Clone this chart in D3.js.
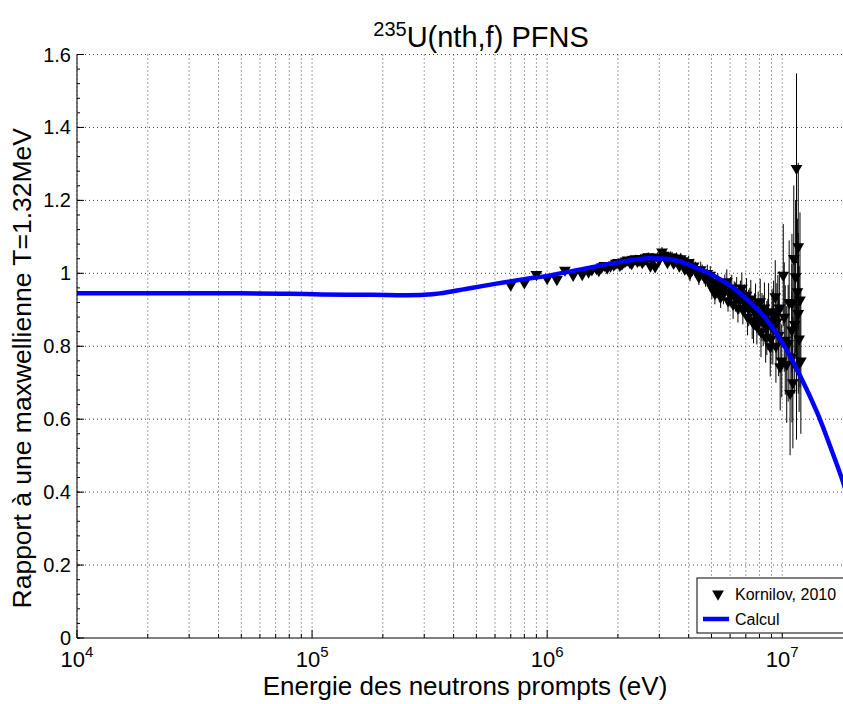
<!DOCTYPE html>
<html>
<head>
<meta charset="utf-8">
<script src="https://cdn.jsdelivr.net/npm/d3@7"></script>
<style>
  body { margin: 0; background: #fff; }
  text { font-family: "Liberation Sans", Arial, Helvetica, sans-serif; fill: #000; }
  .grid line { stroke: #444; stroke-width: 1; stroke-dasharray: 1,3; }
</style>
</head>
<body>
<svg id="chart"></svg>
<script>
// Calcul curve : energy (eV) / ratio to maxwellian
var calcE = [1e4, 5e4, 8e4, 1.1e5, 1.8e5, 2.5e5, 3e5, 3.5e5, 4.5e5, 6e5, 8e5, 1e6, 1.5e6, 2e6, 2.7e6,
             3.5e6, 4.5e6, 5.3e6, 6.2e6, 7.3e6, 8.6e6, 1.01e7, 1.19e7, 1.41e7, 1.6e7, 1.82e7, 1.9e7];
var calcV = [0.945, 0.945, 0.944, 0.942, 0.941, 0.940, 0.941, 0.945, 0.957, 0.971, 0.984, 0.993, 1.015, 1.030, 1.041,
             1.036, 1.010, 0.988, 0.960, 0.920, 0.872, 0.806, 0.720, 0.617, 0.525, 0.425, 0.385];

// Kornilov, 2010 experimental points (energy in MeV), value and error
var kornE = [0.70, 0.80, 0.90, 1.00, 1.10, 1.19, 1.29, 1.41, 1.50, 1.62, 1.71, 1.80, 1.92, 2.00,
             2.08, 2.16, 2.25, 2.33, 2.42, 2.50, 2.58, 2.66, 2.75, 2.88, 2.95, 3.08, 3.20, 3.30,
             3.40, 3.50, 3.60, 3.70, 3.80, 3.90, 4.00, 4.10, 4.20, 4.35, 4.50, 4.65, 4.80, 4.94,
             5.10, 5.25, 5.40, 5.55, 5.70, 5.81, 5.95, 6.10, 6.25, 6.40, 6.55, 6.73, 6.90, 7.05,
             7.20, 7.35, 7.55, 7.70, 7.90, 8.06, 8.20, 8.40, 8.60, 8.75, 8.89, 9.05, 9.19, 9.34,
             9.49, 9.65, 9.80, 10.1, 10.3, 10.6, 10.8, 11.0, 11.0, 11.0, 11.2, 11.4, 11.5, 11.5,
             11.7, 11.7, 11.9];
var kornV = [0.968, 0.974, 0.997, 0.986, 0.983, 1.009, 0.995, 0.997, 1.004, 1.013, 1.018, 1.015, 1.023, 1.030,
             1.026, 1.034, 1.030, 1.038, 1.033, 1.041, 1.036, 1.044, 1.020, 1.018, 1.045, 1.059, 1.047, 1.038,
             1.044, 1.035, 1.030, 1.040, 1.025, 1.020, 1.030, 1.012, 1.020, 1.005, 1.010, 0.995, 1.000, 0.995,
             0.975, 0.960, 0.950, 0.955, 0.965, 0.977, 0.945, 0.960, 0.940, 0.950, 0.930, 0.959, 0.925, 0.940,
             0.905, 0.930, 0.863, 0.915, 0.890, 0.922, 0.880, 0.905, 0.850, 0.895, 0.799, 0.870, 0.886, 0.936,
             0.867, 0.830, 0.744, 0.995, 0.817, 0.808, 0.671, 0.845, 0.918, 0.771, 1.041, 0.991, 1.288, 0.744,
             1.073, 0.890, 0.927];
var kornErr = [0.008, 0.008, 0.008, 0.008, 0.008, 0.008, 0.008, 0.008, 0.008, 0.009, 0.009, 0.009, 0.010, 0.010,
               0.010, 0.010, 0.011, 0.011, 0.011, 0.012, 0.012, 0.012, 0.012, 0.013, 0.013, 0.013, 0.014, 0.014,
               0.015, 0.015, 0.016, 0.016, 0.017, 0.018, 0.018, 0.019, 0.020, 0.021, 0.022, 0.023, 0.024, 0.025,
               0.026, 0.028, 0.030, 0.031, 0.032, 0.034, 0.035, 0.036, 0.038, 0.040, 0.041, 0.043, 0.045, 0.047,
               0.050, 0.052, 0.055, 0.057, 0.060, 0.063, 0.066, 0.070, 0.074, 0.078, 0.082, 0.088, 0.094, 0.100,
               0.106, 0.112, 0.120, 0.140, 0.150, 0.160, 0.170, 0.180, 0.190, 0.180, 0.200, 0.210, 0.260, 0.200,
               0.230, 0.220, 0.240];

// second block of Kornilov points read between the ones above
var kornE2 = [1.55, 1.66, 1.75, 1.86, 1.96, 2.04, 2.12, 2.20, 2.29, 2.37, 2.46, 2.54, 2.62, 2.70,
              2.80, 3.00, 3.14, 3.25, 3.35, 3.45, 3.55, 3.65, 3.75, 3.85, 3.95, 4.05, 4.15, 4.27,
              4.42, 4.57, 4.72, 4.87, 5.02, 5.17, 5.32, 5.47, 5.62, 5.88, 6.02, 6.18, 6.32, 6.48,
              6.64, 6.80, 6.98, 7.12, 7.28, 7.45, 7.62, 7.80, 7.98, 8.12, 8.30, 8.50, 8.68, 8.95,
              9.12, 9.40, 9.58, 9.72, 9.95, 10.2, 10.45, 10.7, 11.1, 11.3, 11.6, 11.8, 12.0];
var kornV2 = [1.010, 1.008, 1.022, 1.020, 1.028, 1.022, 1.031, 1.037, 1.027, 1.040, 1.036, 1.030, 1.040, 1.046,
              1.035, 1.038, 1.050, 1.030, 1.045, 1.028, 1.042, 1.020, 1.035, 1.012, 1.028, 1.000, 1.015, 1.010,
              0.990, 1.002, 0.985, 0.980, 0.960, 0.945, 0.970, 0.935, 0.945, 0.925, 0.950, 0.915, 0.935, 0.905,
              0.940, 0.900, 0.915, 0.880, 0.910, 0.870, 0.895, 0.855, 0.880, 0.840, 0.870, 0.825, 0.860, 0.820,
              0.850, 0.800, 0.895, 0.905, 0.760, 0.880, 0.750, 0.920, 0.700, 0.860, 0.950, 0.820, 0.760];
var kornErr2 = [0.009, 0.009, 0.009, 0.009, 0.009, 0.011, 0.011, 0.011, 0.011, 0.011, 0.011, 0.011, 0.011, 0.011,
                0.011, 0.015, 0.015, 0.015, 0.015, 0.015, 0.015, 0.015, 0.015, 0.015, 0.015, 0.022, 0.022, 0.022,
                0.022, 0.022, 0.022, 0.022, 0.030, 0.030, 0.030, 0.030, 0.030, 0.030, 0.040, 0.040, 0.040, 0.040,
                0.040, 0.040, 0.040, 0.050, 0.050, 0.050, 0.050, 0.050, 0.050, 0.070, 0.070, 0.070, 0.070, 0.070,
                0.100, 0.100, 0.100, 0.100, 0.100, 0.150, 0.160, 0.170, 0.180, 0.190, 0.200, 0.200, 0.200];

var xTicks = [1e4, 1e5, 1e6, 1e7];
var yTicks = [0, 0.2, 0.4, 0.6, 0.8, 1, 1.2, 1.4, 1.6];

// chart size params
var width = 843, height = 704;
var m = {left: 77, right: 853, top: 54.5, bottom: 638};

var x = d3.scaleLog().domain([1e4, 2e7]).range([m.left, m.right]);
var y = d3.scaleLinear().domain([0, 1.6]).range([m.bottom, m.top]);

var svg = d3.select("#chart")
    .attr("width", width)
    .attr("height", height);

// minor log ticks 2..9 for each decade
var minorX = [];
xTicks.forEach(function(d) {
  d3.range(2, 10).forEach(function(k) { if (d * k <= 2e7) minorX.push(d * k); });
});
var minorY = d3.range(0, 1.6001, 0.04);

// Grid (dotted)
var grid = svg.append("g").attr("class", "grid");
grid.selectAll(".gx")
    .data(xTicks.concat(minorX))
  .enter().append("line")
    .attr("x1", function(d) { return x(d); })
    .attr("x2", function(d) { return x(d); })
    .attr("y1", m.top)
    .attr("y2", m.bottom);
grid.selectAll(".gy")
    .data(yTicks.slice(1))
  .enter().append("line")
    .attr("x1", m.left)
    .attr("x2", m.right)
    .attr("y1", function(d) { return y(d); })
    .attr("y2", function(d) { return y(d); });

// Error bars
var pts = kornE.map(function(e, i) { return {e: e * 1e6, v: kornV[i], err: kornErr[i]}; })
  .concat(kornE2.map(function(e, i) { return {e: e * 1e6, v: kornV2[i], err: kornErr2[i]}; }));

svg.append("g")
  .selectAll("line")
    .data(pts)
  .enter().append("line")
    .attr("x1", function(d) { return x(d.e); })
    .attr("x2", function(d) { return x(d.e); })
    .attr("y1", function(d) { return y(d.v - d.err); })
    .attr("y2", function(d) { return y(d.v + d.err); })
    .style("stroke", "#000")
    .style("stroke-width", 1);

// Markers : downward triangles
var tri = d3.symbol().type(d3.symbolTriangle).size(60);
svg.append("g")
  .selectAll("path")
    .data(pts)
  .enter().append("path")
    .attr("d", tri)
    .attr("transform", function(d) { return "translate(" + x(d.e) + "," + y(d.v) + ")rotate(180)"; })
    .style("fill", "#000");

// Calcul line
var line = d3.line()
    .x(function(d, i) { return x(calcE[i]); })
    .y(function(d) { return y(d); })
    .curve(d3.curveCatmullRom.alpha(0.5));

svg.append("path")
    .datum(calcV)
    .attr("d", line)
    .style("fill", "none")
    .style("stroke", "#0000ff")
    .style("stroke-width", 4.5);

// Axes lines
svg.append("line")
    .attr("x1", m.left).attr("x2", m.left).attr("y1", m.top).attr("y2", m.bottom)
    .style("stroke", "#000");
svg.append("line")
    .attr("x1", m.left).attr("x2", m.right).attr("y1", m.bottom).attr("y2", m.bottom)
    .style("stroke", "#000");

// Ticks (inward)
svg.append("g").selectAll("line")
    .data(minorY)
  .enter().append("line")
    .attr("x1", m.left).attr("x2", m.left + 3)
    .attr("y1", function(d) { return y(d); })
    .attr("y2", function(d) { return y(d); })
    .style("stroke", "#000");
svg.append("g").selectAll("line")
    .data(yTicks)
  .enter().append("line")
    .attr("x1", m.left).attr("x2", m.left + 7)
    .attr("y1", function(d) { return y(d); })
    .attr("y2", function(d) { return y(d); })
    .style("stroke", "#000");
svg.append("g").selectAll("line")
    .data(minorX)
  .enter().append("line")
    .attr("x1", function(d) { return x(d); })
    .attr("x2", function(d) { return x(d); })
    .attr("y1", m.bottom).attr("y2", m.bottom - 4)
    .style("stroke", "#000");
svg.append("g").selectAll("line")
    .data(xTicks)
  .enter().append("line")
    .attr("x1", function(d) { return x(d); })
    .attr("x2", function(d) { return x(d); })
    .attr("y1", m.bottom).attr("y2", m.bottom - 8)
    .style("stroke", "#000");

// Tick labels
svg.append("g").selectAll("text")
    .data(yTicks)
  .enter().append("text")
    .attr("x", m.left - 6)
    .attr("y", function(d) { return y(d); })
    .attr("dy", "0.35em")
    .attr("text-anchor", "end")
    .style("font-size", "20px")
    .text(function(d) { return String(d); });

var xl = svg.append("g").selectAll("text")
    .data(xTicks)
  .enter().append("text")
    .attr("x", function(d) { return x(d); })
    .attr("y", 667)
    .attr("text-anchor", "middle")
    .style("font-size", "22px");
xl.append("tspan").text("10");
xl.append("tspan")
    .attr("dy", "-10")
    .style("font-size", "15px")
    .text(function(d) { return Math.round(Math.log10(d)); });

// Axis titles
svg.append("text")
    .attr("x", (m.left + m.right) / 2)
    .attr("y", 695)
    .attr("text-anchor", "middle")
    .style("font-size", "26px")
    .text("Energie des neutrons prompts (eV)");

svg.append("text")
    .attr("transform", "translate(31," + ((m.top + m.bottom) / 2 + 22) + ")rotate(-90)")
    .attr("text-anchor", "middle")
    .style("font-size", "26.5px")
    .text("Rapport à une maxwellienne T=1.32MeV");

var title = svg.append("text")
    .attr("x", (m.left + m.right) / 2 + 16)
    .attr("y", 47)
    .attr("text-anchor", "middle")
    .style("font-size", "29px");
title.append("tspan")
    .attr("dy", "-11")
    .style("font-size", "20px")
    .text("235");
title.append("tspan")
    .attr("dy", "11")
    .text("U(nth,f) PFNS");

// Legend
var lg = svg.append("g").attr("transform", "translate(697,578)");
lg.append("rect")
    .attr("width", 170).attr("height", 55)
    .style("fill", "#fff").style("stroke", "#000");
lg.append("path")
    .attr("d", tri)
    .attr("transform", "translate(21,16)rotate(180)")
    .style("fill", "#000");
lg.append("line")
    .attr("x1", 6).attr("x2", 32).attr("y1", 41).attr("y2", 41)
    .style("stroke", "#0000ff").style("stroke-width", 4.5);
lg.append("text").attr("x", 38).attr("y", 22).style("font-size", "16px").text("Kornilov, 2010");
lg.append("text").attr("x", 38).attr("y", 47).style("font-size", "16px").text("Calcul");
</script>
</body>
</html>
